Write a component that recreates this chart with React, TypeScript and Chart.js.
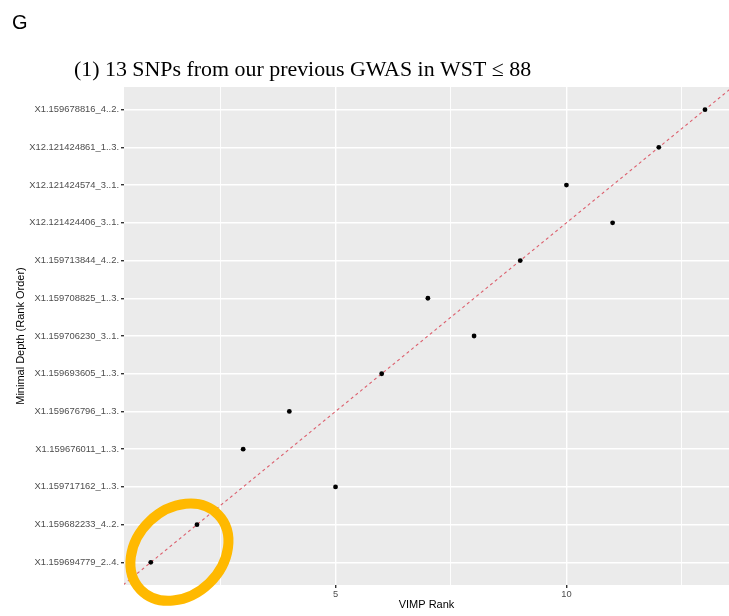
import React, { useEffect, useRef } from "react";
import { Chart, registerables } from "chart.js";

Chart.register(...registerables);

// Categories on the y axis, bottom to top (rank order of minimal depth)
const snpLabels = [
  "X1.159694779_2..4.",
  "X1.159682233_4..2.",
  "X1.159717162_1..3.",
  "X1.159676011_1..3.",
  "X1.159676796_1..3.",
  "X1.159693605_1..3.",
  "X1.159706230_3..1.",
  "X1.159708825_1..3.",
  "X1.159713844_4..2.",
  "X12.121424406_3..1.",
  "X12.121424574_3..1.",
  "X12.121424861_1..3.",
  "X1.159678816_4..2.",
];
// VIMP rank of each SNP above (same order)
const vimpRank = [1, 2, 5, 3, 4, 6, 8, 7, 9, 11, 10, 12, 13];
// Minimal depth rank of each SNP (same order)
const depthRank = [1, 2, 3, 4, 5, 6, 7, 8, 9, 10, 11, 12, 13];
// x ticks (major labelled, minor grid only)
const xTicks = [2.5, 5, 7.5, 10, 12.5];
// y = x reference line ends
const refLine = [0, 14];

const panelLabel = "G";
const chartTitle = "(1) 13 SNPs from our previous GWAS in WST \u2264 88";
const xTitle = "VIMP Rank";
const yTitle = "Minimal Depth (Rank Order)";

const SANS = "Arial, 'Liberation Sans', sans-serif";
const SERIF = "'Times New Roman', 'Liberation Serif', serif";

export default function App() {
  const ref = useRef<HTMLCanvasElement | null>(null);

  useEffect(() => {
    if (!ref.current) return;

    const panelBg = {
      id: "panelBg",
      beforeDraw(chart: any) {
        const { ctx, chartArea: a } = chart;
        ctx.save();
        ctx.fillStyle = "#ffffff";
        ctx.fillRect(0, 0, chart.width, chart.height);
        ctx.fillStyle = "#EBEBEB";
        ctx.fillRect(a.left, a.top, a.right - a.left, a.bottom - a.top);
        ctx.restore();
      },
    };

    const decorations = {
      id: "decorations",
      afterDraw(chart: any) {
        const { ctx } = chart;
        const xs = chart.scales.x;
        const ys = chart.scales.y;
        ctx.save();
        // highlight ellipse around the first two SNPs
        const cx = xs.getPixelForValue(1.62);
        const cy = ys.getPixelForValue(1.27);
        ctx.beginPath();
        ctx.ellipse(cx, cy, 54, 43, (-44 * Math.PI) / 180, 0, Math.PI * 2);
        ctx.strokeStyle = "#FFB900";
        ctx.lineWidth = 10;
        ctx.stroke();
        // panel letter
        ctx.fillStyle = "#000000";
        ctx.textBaseline = "alphabetic";
        ctx.textAlign = "left";
        ctx.font = `20px ${SANS}`;
        ctx.fillText(panelLabel, 12, 29);
        // title
        ctx.font = `21.9px ${SERIF}`;
        ctx.fillText(chartTitle, 74, 76);
        ctx.restore();
      },
    };

    const zeroPad = (s: any) => {
      s.paddingLeft = 0;
      s.paddingRight = 0;
      s.paddingTop = 0;
      s.paddingBottom = 0;
    };

    const chart = new Chart(ref.current, {
      type: "scatter",
      data: {
        datasets: [
          {
            type: "scatter",
            data: vimpRank.map((v, i) => ({ x: v, y: depthRank[i] })),
            backgroundColor: "#000000",
            borderColor: "#000000",
            pointRadius: 2.4,
            pointBorderWidth: 0,
            order: 1,
          },
          {
            type: "line",
            data: refLine.map((v) => ({ x: v, y: v })),
            borderColor: "rgba(218,80,95,0.9)",
            borderWidth: 1.1,
            borderDash: [3, 3],
            pointRadius: 0,
            fill: false,
            clip: 0,
            order: 2,
          } as any,
        ],
      },
      options: {
        animation: false,
        responsive: false,
        devicePixelRatio: 1,
        layout: { autoPadding: false, padding: { top: 87, left: 0, right: 0, bottom: 0 } },
        plugins: {
          legend: { display: false },
          tooltip: { enabled: false },
          title: { display: false },
        },
        scales: {
          x: {
            type: "linear",
            min: 0.42,
            max: 13.52,
            afterBuildTicks: (s: any) => {
              s.ticks = xTicks.map((v) => ({ value: v }));
            },
            afterFit: (s: any) => {
              s.height = 31;
              zeroPad(s);
            },
            border: { display: false },
            grid: {
              color: "#FFFFFF",
              lineWidth: (c: any) => (c.tick && c.tick.value % 5 === 0 ? 1.4 : 0.9),
              tickColor: (c: any) =>
                c.tick && c.tick.value % 5 === 0 ? "#333333" : "rgba(0,0,0,0)",
              tickLength: 3,
              drawTicks: true,
            },
            ticks: {
              autoSkip: false,
              maxRotation: 0,
              padding: 1,
              color: "#4D4D4D",
              font: { family: SANS, size: 9.3 },
              callback: (v: any) => (Number(v) % 5 === 0 ? String(v) : ""),
            },
            title: {
              display: true,
              text: xTitle,
              color: "#000000",
              font: { family: SANS, size: 11 },
              padding: { top: 0, bottom: 4 },
            },
          },
          y: {
            type: "linear",
            min: 0.4,
            max: 13.6,
            afterBuildTicks: (s: any) => {
              s.ticks = snpLabels.map((_, i) => ({ value: i + 1 }));
            },
            afterFit: (s: any) => {
              s.width = 124;
              zeroPad(s);
            },
            border: { display: false },
            grid: {
              color: "#FFFFFF",
              lineWidth: 1.4,
              tickColor: "#333333",
              tickLength: 3,
              drawTicks: true,
            },
            ticks: {
              autoSkip: false,
              padding: 2,
              color: "#4D4D4D",
              font: { family: SANS, size: 9.4 },
              callback: (v: any) => snpLabels[Math.round(Number(v)) - 1] ?? "",
            },
            title: {
              display: true,
              text: yTitle,
              color: "#000000",
              font: { family: SANS, size: 11 },
              padding: { top: 14, bottom: 0 },
            },
          },
        },
      },
      plugins: [panelBg, decorations],
    });

    return () => chart.destroy();
  }, []);

  return (
    <div style={{ position: "absolute", left: 0, top: 0, width: 729, height: 616 }}>
      <canvas ref={ref} width={729} height={616} style={{ display: "block" }} />
    </div>
  );
}
